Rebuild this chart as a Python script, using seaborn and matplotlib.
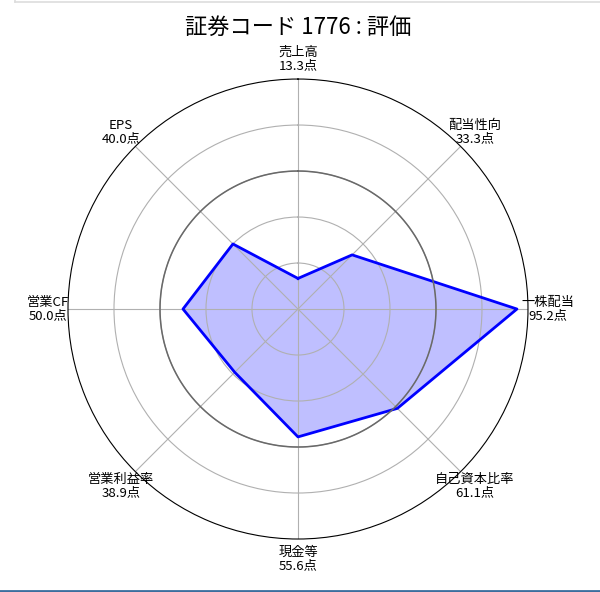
import numpy as np
import pandas as pd
import matplotlib
matplotlib.use("Agg")
import matplotlib.pyplot as plt
import seaborn as sns
from matplotlib.lines import Line2D

# evaluation items (clockwise from top) and scores
labels = ["売上高", "配当性向", "一株配当", "自己資本比率", "現金等", "営業利益率", "営業CF", "EPS"]
scores = [13.3, 33.3, 95.2, 61.1, 55.6, 38.9, 50.0, 40.0]
code = "1776"
pass_line = 60

plt.rcParams["font.family"] = ["Noto Sans CJK JP", "DejaVu Sans"]

n = len(labels)
angles = np.linspace(0, 2 * np.pi, n, endpoint=False)
df = pd.DataFrame({
    "angle": np.append(angles, angles[0] + 2 * np.pi),
    "score": scores + scores[:1],
})

fig = plt.figure(figsize=(6, 5.92), dpi=100)
ax = fig.add_axes([0.1133, 0.0895, 0.7667, 0.777], projection="polar")
ax.set_theta_offset(np.pi / 2)
ax.set_theta_direction(-1)

sns.lineplot(data=df, x="angle", y="score", sort=False, estimator=None,
             color="blue", linewidth=2, ax=ax)
ax.fill(df["angle"], df["score"], color="blue", alpha=0.25, linewidth=0)

# reference circle
circ = np.linspace(0, 2 * np.pi, 361)
ax.plot(circ, np.full_like(circ, pass_line), color="dimgray", linewidth=1.1)

ax.set_ylim(0, 100)
ax.set_yticks([20, 40, 60, 80])
ax.set_yticklabels([])
ax.set_xticks(angles)
ax.set_xticklabels([f"{l}\n{s:.1f}点" for l, s in zip(labels, scores)], fontsize=9.5,
                   linespacing=1.05)
ax.tick_params(axis="x", pad=4)
ax.grid(True, color="#b0b0b0", linewidth=0.8)
ax.spines["polar"].set_color("black")
ax.set_xlabel("")
ax.set_ylabel("")
fig.text(0.497, 0.954, f"証券コード {code} : 評価", fontsize=16, ha="center", va="center")

# screenshot frame lines
fig.add_artist(Line2D([0.025, 1.0], [0.997, 0.997], color="#dddddd", linewidth=1.2))
fig.add_artist(Line2D([0.025, 0.025], [0.997, 1.0], color="#dddddd", linewidth=1.2))
fig.add_artist(Line2D([0.0, 1.0], [0.002, 0.002], color="#3b6e9e", linewidth=2))

fig.savefig("out.png", dpi=100)
